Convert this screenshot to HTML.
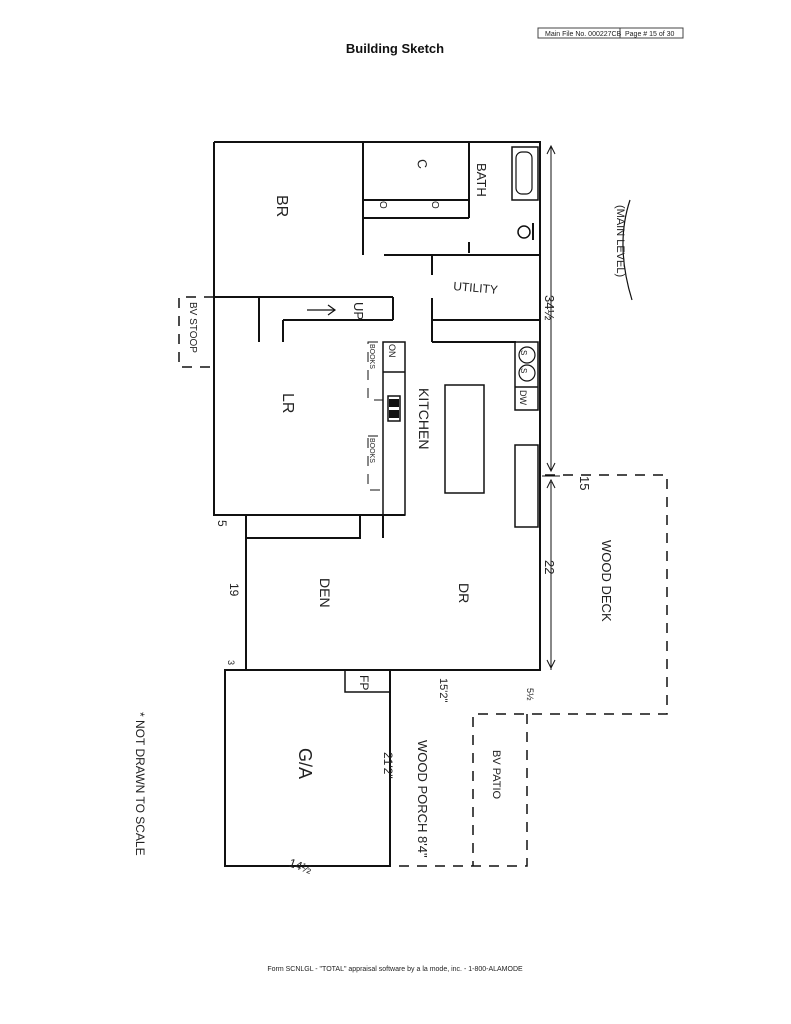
<!DOCTYPE html>
<html><head><meta charset="utf-8"><style>
html,body{margin:0;padding:0;background:#fff;width:791px;height:1024px;overflow:hidden}
svg{display:block}
.h{font-family:"Liberation Sans",sans-serif;fill:#222}
</style></head><body>
<svg width="791" height="1024" viewBox="0 0 791 1024" xmlns="http://www.w3.org/2000/svg">
<rect x="538" y="28" width="145" height="10" fill="none" stroke="#444" stroke-width="1"/>
<line x1="620" y1="28" x2="620" y2="38" stroke="#444"/>
<text x="545" y="36" font-family="Liberation Sans,sans-serif" font-size="7" fill="#222">Main File No. 000227CB</text>
<text x="625" y="36" font-family="Liberation Sans,sans-serif" font-size="7" fill="#222">Page # 15 of 30</text>
<text x="395" y="53" text-anchor="middle" font-family="Liberation Sans,sans-serif" font-size="13" font-weight="bold" fill="#111">Building Sketch</text>
<text x="395" y="971" text-anchor="middle" font-family="Liberation Sans,sans-serif" font-size="7" fill="#222">Form SCNLGL - "TOTAL" appraisal software by a la mode, inc. - 1-800-ALAMODE</text>

<g stroke="#111" stroke-width="2" fill="none">
<polyline points="214,142 540,142 540,670 246,670 246,515 214,515 214,142"/>
<line x1="214" y1="515" x2="405" y2="515"/>
<line x1="363" y1="142" x2="363" y2="255"/>
<line x1="363" y1="200" x2="469" y2="200"/>
<line x1="469" y1="142" x2="469" y2="218"/>
<line x1="363" y1="218" x2="469" y2="218"/>
<line x1="469" y1="242" x2="469" y2="253"/>
<line x1="384" y1="255" x2="540" y2="255"/>
<rect x="512" y="147" width="26" height="53" stroke-width="1.5"/>
<rect x="516" y="152" width="16" height="42" rx="6" stroke-width="1.2"/>
<circle cx="524" cy="232" r="6" stroke-width="1.5"/>
<line x1="533" y1="223" x2="533" y2="240"/>
<line x1="432" y1="255" x2="432" y2="275"/>
<line x1="432" y1="298" x2="432" y2="342"/>
<line x1="431" y1="320" x2="540" y2="320"/>
<line x1="432" y1="342" x2="516" y2="342"/>
<line x1="214" y1="297" x2="393" y2="297"/>
<line x1="393" y1="297" x2="393" y2="320"/>
<line x1="283" y1="320" x2="393" y2="320"/>
<line x1="283" y1="320" x2="283" y2="342"/>
<line x1="259" y1="297" x2="259" y2="342"/>
<rect x="383" y="342" width="22" height="173" stroke-width="1.5"/>
<line x1="383" y1="372" x2="405" y2="372" stroke-width="1.5"/>
<rect x="388" y="396" width="12" height="25" stroke-width="1.5"/>
<rect x="390" y="400" width="8" height="6" fill="#111"/>
<rect x="390" y="411" width="8" height="6" fill="#111"/>
<rect x="445" y="385" width="39" height="108" stroke-width="1.5"/>
<rect x="515" y="342" width="23" height="68" stroke-width="1.5"/>
<line x1="515" y1="387" x2="538" y2="387" stroke-width="1.5"/>
<rect x="515" y="445" width="23" height="82" stroke-width="1.5"/>
<polyline points="246,538 360,538 360,515"/>
<line x1="383" y1="515" x2="383" y2="538"/>
<rect x="225" y="670" width="165" height="196"/>
<rect x="345" y="670" width="45" height="22" stroke-width="1.5"/>
</g>
<g stroke="#111" stroke-width="1" fill="none">
<line x1="551" y1="147" x2="551" y2="470"/>
<line x1="551" y1="482" x2="551" y2="670"/>
<polyline points="547,154 551,146 555,154"/>
<polyline points="547,463 551,471 555,463"/>
<polyline points="547,488 551,480 555,488"/>
<polyline points="547,660 551,668 555,660"/>
<line x1="542" y1="476" x2="560" y2="476"/>
</g>
<g stroke="#111" stroke-width="1.5" fill="none" stroke-dasharray="10,8">
<polyline points="545,475 667,475 667,714 473,714 473,866"/>
<polyline points="527,714 527,866 390,866"/>
<polyline points="214,297 179,297 179,367 214,367"/>
<rect x="368" y="342" width="15" height="58" stroke-width="1"/>
<rect x="368" y="436" width="15" height="54" stroke-width="1"/>
</g>
<g stroke="#111" stroke-width="1.2" fill="none">
<line x1="307" y1="310" x2="335" y2="310"/><polyline points="328,305 335,310 328,315"/>
<path d="M630 200 Q615 245 632 300"/>
<circle cx="527" cy="355" r="8"/><circle cx="527" cy="373" r="8"/>
</g>
<g class="h" font-size="16">
<text transform="translate(277,195) rotate(90)">BR</text>
<text transform="translate(417,160) rotate(80)" font-size="13">C</text>
<text transform="translate(477,163) rotate(90)" font-size="13">BATH</text>
<text transform="translate(453,290) rotate(5)" font-size="12">UTILITY</text>
<text transform="translate(354,302) rotate(90)" font-size="13">UP</text>
<text transform="translate(283,393) rotate(90)">LR</text>
<text transform="translate(419,388) rotate(90)" font-size="14">KITCHEN</text>
<text transform="translate(320,578) rotate(90)" font-size="14">DEN</text>
<text transform="translate(459,583) rotate(90)" font-size="14">DR</text>
<text transform="translate(299,748) rotate(90)" font-size="18">G/A</text>
<text transform="translate(602,540) rotate(90)" font-size="13">WOOD DECK</text>
<text transform="translate(418,740) rotate(90)" font-size="13">WOOD PORCH 8'4"</text>
<text transform="translate(493,750) rotate(90)" font-size="11">BV PATIO</text>
<text transform="translate(190,302) rotate(90)" font-size="10">BV STOOP</text>
<text transform="translate(617,205) rotate(90)" font-size="11">(MAIN LEVEL)</text>
<text transform="translate(136,712) rotate(90)" font-size="12">* NOT DRAWN TO SCALE</text>
<text transform="translate(545,295) rotate(90)" font-size="13">34½</text>
<text transform="translate(545,560) rotate(90)" font-size="13">22</text>
<text transform="translate(384,752) rotate(90)" font-size="12">21'2"</text>
<text transform="translate(440,678) rotate(90)" font-size="11">15'2"</text>
<text transform="translate(527,688) rotate(90)" font-size="9">5½</text>
<text transform="translate(580,476) rotate(90)" font-size="13">15</text>
<text transform="translate(230,583) rotate(90)" font-size="12">19</text>
<text transform="translate(218,520) rotate(90)" font-size="12">5</text>
<text transform="translate(228,660) rotate(90)" font-size="9">3</text>
<text transform="translate(360,675) rotate(90)" font-size="12">FP</text>
<text transform="translate(288,866) rotate(20)" font-size="12">14½</text>
<text transform="translate(389,344) rotate(90)" font-size="9">ON</text>
<text transform="translate(520,390) rotate(90)" font-size="9">DW</text>
<text transform="translate(521,350) rotate(90)" font-size="8">S</text>
<text transform="translate(521,368) rotate(90)" font-size="8">S</text>
<text transform="translate(370,344) rotate(90)" font-size="7">BOOKS</text>
<text transform="translate(370,438) rotate(90)" font-size="7">BOOKS</text>
<text transform="translate(380,201) rotate(90)" font-size="10">O</text>
<text transform="translate(432,201) rotate(90)" font-size="10">O</text>
</g>
</svg>
</body></html>
